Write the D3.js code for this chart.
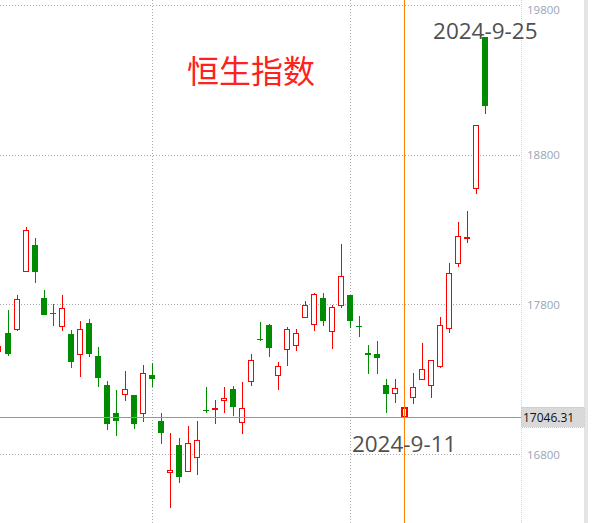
<!DOCTYPE html>
<html>
<head>
<meta charset="utf-8">
<script src="https://cdn.jsdelivr.net/npm/d3@7"></script>
<style>
  body { margin: 0; background: #fff; }
  svg { display: block; }
</style>
</head>
<body>
<div id="chart"></div>
<script>
// daily candles, first one is cut off at the left edge
var opens  = [17484, 17609, 17631, 18022, 18197, 17843, 17743, 17651, 17602, 17467,
              17676, 17455, 17261, 17074, 17199, 17194, 17072, 17328, 17021, 16678,
              16860, 16684, 16778, 17094, 17101, 17161, 17235, 17012, 17286, 17569,
              17662, 17322, 17500, 17527, 17714, 17667, 17843, 17620, 17792, 17863,
              17656, 17477, 17469, 17261, 17206, 17046.31, 17181, 17301, 17255, 17388,
              17636, 18077, 18242, 18576, 19586];
var highs  = [17542, 17763, 17863, 18318, 18244, 17896, 17803, 17863, 17629, 17689,
              17703, 17515, 17288, 17228, 17355, 17196, 17395, 17410, 17074, 16940,
              16907, 16987, 17021, 17250, 17161, 17248, 17257, 17281, 17469, 17683,
              17669, 17415, 17649, 17636, 17823, 17878, 17878, 17796, 18204, 17866,
              17723, 17529, 17558, 17303, 17299, 17121, 17340, 17540, 17424, 17718,
              18075, 18353, 18425, 18998, 19586];
var lows   = [17462, 17457, 17624, 18015, 17945, 17728, 17658, 17624, 17377, 17317,
              17451, 17250, 16962, 16922, 17156, 16969, 17016, 17250, 16869, 16441,
              16608, 16680, 16662, 17076, 17001, 17076, 17056, 16932, 17257, 17556,
              17451, 17230, 17390, 17491, 17710, 17624, 17656, 17504, 17778, 17644,
              17584, 17333, 17333, 17072, 17139, 16960, 17132, 17296, 17176, 17373,
              17607, 18048, 18213, 18536, 19075];
var closes = [17522, 17469, 17830, 18291, 18019, 17731, 17738, 17774, 17417, 17634,
              17469, 17310, 17003, 17023, 17233, 17003, 17340, 17303, 16942, 16691,
              16648, 16872, 16887, 17090, 17105, 17172, 17116, 17106, 17426, 17565,
              17511, 17386, 17634, 17607, 17794, 17868, 17691, 17781, 17988, 17691,
              17651, 17460, 17445, 17198, 17235, 17109, 17243, 17368, 17424, 17656,
              18010, 18256, 18247, 18998, 19129];

var priceTicks = [16800, 17800, 18800, 19800];
var monthLines = [17, 39];          // candle index of the vertical grid lines
var markIndex = [45, 54];
var markLabel = ["2024-9-11", "2024-9-25"];
var crossIndex = 45;
var crossPrice = 17046.31;
var title = "恒生指数";

var width = 593;
var height = 523;
var plotRight = 521;

var svg = d3.select("#chart")
    .append("svg")
    .attr("width", width)
    .attr("height", height);

svg.append("rect").attr("width", width).attr("height", height).attr("fill", "#fff");

var x = d3.scaleLinear().domain([1, 54]).range([7.5, 485.3]);
var y = d3.scaleLinear().domain([16800, 19800]).range([454, 5.3]);

// grid
var grid = svg.append("g").attr("shape-rendering", "crispEdges");
grid.selectAll("line.h")
    .data(priceTicks)
    .enter()
    .append("line")
    .attr("x1", 0)
    .attr("x2", plotRight)
    .attr("y1", function(d) { return Math.round(y(d)) + 0.5; })
    .attr("y2", function(d) { return Math.round(y(d)) + 0.5; })
    .attr("stroke", "#aaa")
    .attr("stroke-dasharray", "1,2");

grid.selectAll("line.v")
    .data(monthLines)
    .enter()
    .append("line")
    .attr("x1", function(d) { return Math.round(x(d)) + 0.5; })
    .attr("x2", function(d) { return Math.round(x(d)) + 0.5; })
    .attr("y1", 0)
    .attr("y2", height)
    .attr("stroke", "#aaa")
    .attr("stroke-dasharray", "1,2");

grid.append("line")
    .attr("x1", plotRight + 0.5).attr("x2", plotRight + 0.5)
    .attr("y1", 0).attr("y2", height)
    .attr("stroke", "#d6d6d6")
    .attr("stroke-dasharray", "1,1");

// right edge strip
svg.append("rect")
    .attr("x", 584).attr("y", 0)
    .attr("width", 4).attr("height", height)
    .attr("fill", "#e4e4e4");

// price axis labels
svg.selectAll("text.tick")
    .data(priceTicks)
    .enter()
    .append("text")
    .attr("x", 527)
    .attr("y", function(d) { return Math.max(y(d), 9); })
    .attr("dominant-baseline", "central")
    .attr("font-family", "'Open Sans', sans-serif")
    .attr("font-size", "11.5px")
    .attr("fill", "#9aa4b4")
    .text(function(d) { return d; });

// title
svg.append("text")
    .attr("x", 187)
    .attr("y", 83)
    .attr("font-family", "'Noto Sans CJK SC', sans-serif")
    .attr("font-size", "32px")
    .attr("fill", "#ff2020")
    .text(title);

// candles
var candles = svg.append("g").attr("shape-rendering", "crispEdges");
var idx = d3.range(opens.length);

function cx(i) { return Math.round(x(i)); }

candles.selectAll("line.wick")
    .data(idx)
    .enter()
    .append("line")
    .attr("x1", function(i) { return cx(i) + 0.5; })
    .attr("x2", function(i) { return cx(i) + 0.5; })
    .attr("y1", function(i) { return y(highs[i]); })
    .attr("y2", function(i) { return y(lows[i]); })
    .attr("stroke", function(i) { return closes[i] >= opens[i] ? "#ff0000" : "#008c00"; })
    .attr("stroke-width", 1);

candles.selectAll("rect.body")
    .data(idx)
    .enter()
    .append("rect")
    .attr("x", function(i) { return closes[i] >= opens[i] ? cx(i) - 2.5 : cx(i) - 3; })
    .attr("width", function(i) { return closes[i] >= opens[i] ? 5 : 6; })
    .attr("y", function(i) { return y(Math.max(opens[i], closes[i])); })
    .attr("height", function(i) {
        return Math.max(1, Math.abs(y(opens[i]) - y(closes[i])));
    })
    .attr("fill", function(i) { return closes[i] >= opens[i] ? "#fff" : "#008c00"; })
    .attr("stroke", function(i) { return closes[i] >= opens[i] ? "#ff0000" : "none"; })
    .attr("stroke-width", function(i) { return i === crossIndex ? 2 : 1; });

// crosshair
svg.append("line")
    .attr("x1", 0).attr("x2", plotRight)
    .attr("y1", Math.round(y(crossPrice)) + 0.5)
    .attr("y2", Math.round(y(crossPrice)) + 0.5)
    .attr("stroke", "#ff8000")
    .attr("shape-rendering", "crispEdges");
svg.append("line")
    .attr("x1", cx(crossIndex) + 0.5).attr("x2", cx(crossIndex) + 0.5)
    .attr("y1", 0).attr("y2", height)
    .attr("stroke", "#ff8000")
    .attr("shape-rendering", "crispEdges");

var boxY = Math.round(y(crossPrice)) - 10;
svg.append("rect")
    .attr("x", plotRight).attr("y", boxY)
    .attr("width", 63).attr("height", 20)
    .attr("fill", "#d9d9d9")
    .attr("stroke", "#c8c8c8")
    .attr("stroke-dasharray", "1,1")
    .attr("shape-rendering", "crispEdges");
svg.append("text")
    .attr("x", 523)
    .attr("y", boxY + 10)
    .attr("dominant-baseline", "central")
    .attr("font-family", "'Open Sans', sans-serif")
    .attr("font-size", "12px")
    .attr("fill", "#111")
    .text(crossPrice.toFixed(2));

// date marks
svg.selectAll("text.mark")
    .data(markIndex)
    .enter()
    .append("text")
    .attr("x", function(d) { return x(d); })
    .attr("y", function(d, k) { return k === 0 ? 452 : 39; })
    .attr("text-anchor", "middle")
    .attr("font-family", "'Open Sans', sans-serif")
    .attr("font-size", "22.5px")
    .attr("fill", "#505050")
    .text(function(d, k) { return markLabel[k]; });
</script>
</body>
</html>
